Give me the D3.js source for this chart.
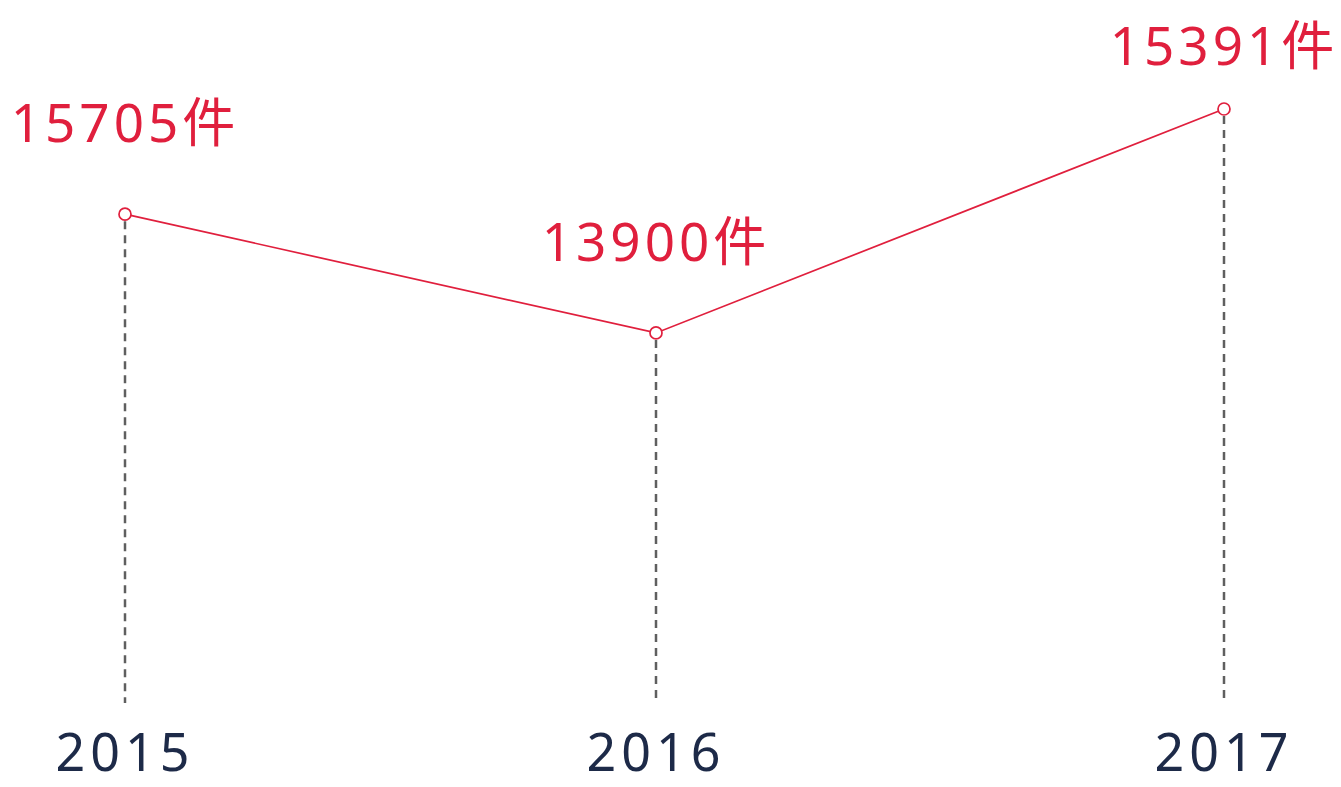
<!DOCTYPE html>
<html>
<head>
<meta charset="utf-8">
<script src="https://cdn.jsdelivr.net/npm/d3@7"></script>
<style>
  body { margin: 0; background: #fff; }
  svg { display: block; }
</style>
</head>
<body>
<div class="plot"></div>
<script>
//Chart data
const years = ['2015', '2016', '2017'];
const counts = [15705, 13900, 15391];
//relative height of each point as drawn in the picture (0-100)
const levels = [82.3, 62.3, 100];

const w = 1341;
const h = 787;
const red = '#e01f3d';
const navy = '#1d2a48';

const svg = d3.select('.plot').append('svg').attr('width', w).attr('height', h);

//Scales (columns are not evenly spaced in the original)
const x = d3.scaleOrdinal().domain(years).range([125, 656, 1224]);
const y = d3.scaleLinear().domain([0, 100]).range([703, 109]);
const baseY = y(0);

const data = years.map((d, i) => ({year: d, count: counts[i], level: levels[i]}));

//Dashed drop lines
svg.selectAll('.drop')
  .data(data)
  .enter()
  .append('line')
  .attr('class', 'drop')
  .attr('x1', d => x(d.year))
  .attr('x2', d => x(d.year))
  .attr('y1', d => y(d.level) + 7)
  .attr('y2', baseY)
  .style('stroke', '#5f5f5f')
  .style('stroke-width', 2.5)
  .style('stroke-dasharray', '8,6');

//Line
const line = d3.line().x(d => x(d.year)).y(d => y(d.level));
svg.append('path')
  .datum(data)
  .attr('d', line)
  .style('fill', 'none')
  .style('stroke', red)
  .style('stroke-width', 1.7);

//Points
svg.selectAll('.pt')
  .data(data)
  .enter()
  .append('circle')
  .attr('class', 'pt')
  .attr('cx', d => x(d.year))
  .attr('cy', d => y(d.level))
  .attr('r', 6)
  .style('fill', '#fff')
  .style('stroke', red)
  .style('stroke-width', 1.7);

//Value labels (kept inside the top edge)
svg.selectAll('.val')
  .data(data)
  .enter()
  .append('text')
  .attr('class', 'val')
  .attr('x', d => x(d.year))
  .attr('y', d => Math.max(y(d.level) - 72, 65))
  .attr('text-anchor', 'middle')
  .style('font-family', '"Noto Sans", "Noto Sans CJK SC", sans-serif')
  .style('font-size', '53px')
  .style('letter-spacing', '4px')
  .style('fill', red)
  .text(d => d.count + '件');

//Year labels
svg.selectAll('.year')
  .data(data)
  .enter()
  .append('text')
  .attr('class', 'year')
  .attr('x', d => x(d.year))
  .attr('y', 771)
  .attr('text-anchor', 'middle')
  .style('font-family', '"Noto Sans", sans-serif')
  .style('font-size', '52px')
  .style('letter-spacing', '5px')
  .style('fill', navy)
  .text(d => d.year);
</script>
</body>
</html>
